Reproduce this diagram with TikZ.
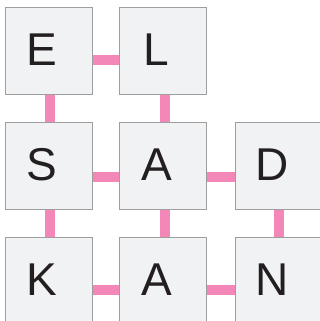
\documentclass[tikz,border=0pt]{standalone}
\usepackage{fontspec}
\setmainfont{Liberation Sans}
\usetikzlibrary{backgrounds}
\definecolor{pinkline}{HTML}{F388B8}
\definecolor{boxfill}{HTML}{F1F2F4}
\definecolor{boxdraw}{HTML}{9E9E9E}
\definecolor{letterc}{HTML}{231F20}
\tikzset{
  tile/.style={draw=boxdraw, line width=0.9pt, fill=boxfill, minimum size=87pt, inner sep=0pt, outer sep=0pt},
  letter/.style={text=letterc, font=\fontsize{46}{46}\selectfont, inner sep=0pt, xshift=-6.5pt, yshift=1pt},
  link/.style={pinkline, line width=10pt},
  hlink/.style={link},
}
\begin{document}
\begin{tikzpicture}[x=1pt,y=-1pt]
\useasboundingbox (0,0) rectangle (320,321);
\clip (0,0) rectangle (320,321);
% tiles
\node[tile] (E) at (48.5,50.5) {};
\node[tile] (L) at (163,50.5) {};
\node[tile] (S) at (48.5,166) {};
\node[tile] (A) at (163,166) {};
\node[tile] (D) at (278.5,166) {};
\node[tile] (K) at (48.5,280.5) {};
\node[tile] (B) at (163,280.5) {};
\node[tile] (N) at (278.5,280.5) {};
% connectors behind tiles
\begin{scope}[on background layer]
\draw[link] ([yshift=-9.5pt]E.center) -- ([yshift=-9.5pt]L.center);
\draw[link] ([yshift=-11pt]S.center) -- ([yshift=-11pt]A.center);
\draw[link] ([yshift=-11pt]A.center) -- ([yshift=-11pt]D.center);
\draw[link] ([yshift=-9.5pt]K.center) -- ([yshift=-9.5pt]B.center);
\draw[link] ([yshift=-9.5pt]B.center) -- ([yshift=-9.5pt]N.center);
\draw[link] ([xshift=1.5pt]E.center) -- ([xshift=1.5pt]S.center);
\draw[link] ([xshift=1.5pt]L.center) -- ([xshift=1.5pt]A.center);
\draw[link] ([xshift=1.5pt]S.center) -- ([xshift=1.5pt]K.center);
\draw[link] ([xshift=1.5pt]A.center) -- ([xshift=1.5pt]B.center);
\draw[link] (D.center) -- (N.center);
\end{scope}
% letters
\node[letter] (tE) at (E.center) {E};
\node[letter] (tL) at (L.center) {L};
\node[letter] (tS) at (S.center) {S};
\node[letter] (tA) at (A.center) {A};
\node[letter] (tD) at (D.center) {D};
\node[letter] (tK) at (K.center) {K};
\node[letter] (tB) at (B.center) {A};
\node[letter] (tN) at (N.center) {N};
\end{tikzpicture}
\end{document}
